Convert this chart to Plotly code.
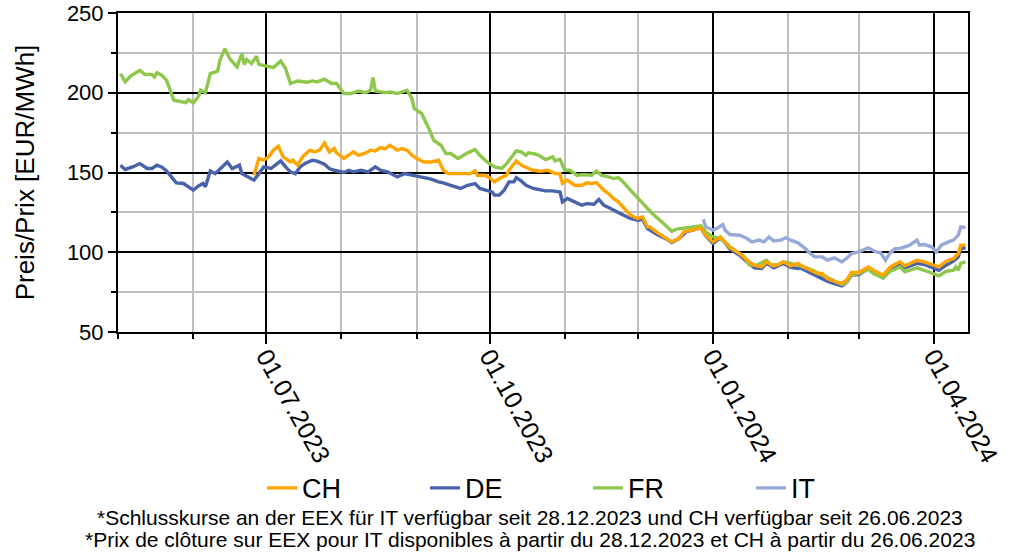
import pandas as pd
import plotly.graph_objects as go

START = "2023-05-01"  # day 0 of the day offsets below

# ---- data: day offsets since 2023-05-01 and prices [EUR/MWh] ----
CH_days = [56, 58, 60, 62, 64, 66, 68, 70, 71, 72,
           74, 76, 79, 81, 83, 85, 87, 89, 90, 93,
           95, 97, 99, 102, 104, 106, 108, 110, 112, 115,
           117, 119, 121, 123, 126, 129, 132, 134, 136, 140,
           141, 145, 147, 148, 151, 153, 155, 157, 160, 161,
           164, 166, 169, 171, 174, 177, 180, 182, 183, 185,
           188, 191, 193, 195, 197, 200, 202, 204, 206, 208,
           211, 214, 216, 218, 219, 222, 226, 228, 231, 233,
           236, 240, 242, 245, 248, 250, 252, 256, 259, 262,
           265, 267, 270, 272, 274, 277, 280, 281, 285, 288,
           290, 292, 295, 298, 300, 302, 305, 309, 311, 315,
           318, 322, 324, 329, 332, 336, 338, 341, 344, 346,
           347, 349]
CH_vals = [148.3, 158.8, 157.7, 159.8, 164, 166.5, 159.8, 157.7, 156.6, 157.7,
           154.6, 159.8, 164, 162.9, 164, 168.5, 162.9, 165, 162.3, 158.8,
           160.8, 162.9, 160.8, 162.3, 164, 163.5, 165.6, 165, 167.1, 164,
           165, 164, 160.8, 158.8, 156.6, 156.6, 157.7, 151.4, 149.3, 149.3,
           148.9, 149.3, 151, 148.3, 148.3, 146.8, 144.1, 146.2, 148.3, 151.4,
           157.3, 154.6, 152.5, 151.4, 150.8, 151.4, 149.3, 149.3, 143.1, 145.2,
           142, 142, 143.5, 143.1, 143.7, 138.9, 136.8, 133.7, 131.6, 128.1,
           123.3, 121.2, 122.2, 115.9, 115.9, 112.4, 108.6, 106.5, 108.6, 112.8,
           113.8, 115.3, 110.7, 106.5, 109.6, 106.5, 102.8, 99.2, 95, 91.9,
           90.8, 94, 91.5, 92.3, 94, 91.5, 93, 91.9, 88.7, 86.7,
           86.7, 83.5, 81.9, 80.4, 82.5, 87.3, 87.3, 90.8, 88.7, 85.6,
           90.8, 94, 91.5, 95, 94, 91.9, 90.8, 94.4, 96.1, 99.2,
           104.4, 104.4]

DE_days = [1, 3, 6, 9, 12, 14, 16, 18, 20, 24,
           27, 29, 31, 33, 35, 36, 38, 40, 42, 45,
           47, 50, 51, 54, 56, 58, 60, 63, 65, 67,
           69, 71, 73, 75, 77, 80, 82, 85, 87, 89,
           93, 95, 97, 100, 103, 106, 108, 111, 115, 118,
           121, 123, 126, 129, 132, 134, 137, 140, 141, 144,
           147, 149, 152, 154, 155, 157, 159, 161, 163, 164,
           166, 168, 171, 173, 176, 179, 182, 183, 185, 188,
           191, 193, 196, 198, 200, 202, 204, 206, 208, 211,
           214, 216, 218, 222, 226, 228, 231, 234, 237, 240,
           242, 245, 248, 250, 252, 256, 259, 262, 265, 267,
           270, 272, 274, 277, 280, 281, 285, 288, 292, 295,
           298, 300, 302, 305, 309, 311, 315, 318, 322, 324,
           329, 332, 336, 338, 341, 344, 346, 347, 349]
DE_vals = [154.6, 151.9, 153.5, 155.6, 152.5, 152.5, 154.6, 153.5, 151, 143.5,
           143.1, 141, 138.9, 141.4, 143.1, 141, 151, 149.3, 152.5, 156.6,
           152.5, 154.6, 149.3, 146.8, 145.2, 149.3, 153.5, 152.5, 155.2, 157.3,
           153.5, 150.4, 149.3, 153.5, 155.6, 157.7, 157.1, 155.2, 152.5, 151.4,
           150, 151.4, 150.4, 151.4, 150.4, 153.5, 151.4, 150.4, 147.2, 149.3,
           148.3, 147.7, 146.8, 145.8, 144.1, 143.5, 142, 140.6, 140, 142,
           143.1, 140, 138.5, 137.8, 135.8, 135.8, 138.9, 144.1, 144.1, 146.8,
           144.7, 142, 140, 139.3, 138.5, 138.5, 137.8, 131.6, 133.7, 131.6,
           129.5, 130.5, 130.1, 133.1, 129.5, 128.1, 126.4, 125.3, 123.3, 121.2,
           120.1, 120.7, 114.9, 111.1, 108.2, 106.1, 108.6, 112.8, 113.8, 115.3,
           110.3, 105.5, 109, 105.9, 101.9, 98.1, 94, 90.2, 89.8, 93,
           90.2, 91.5, 93, 90.5, 89.8, 90.2, 87.3, 85.2, 81.9, 80.4,
           78.9, 81, 85.6, 86, 89.8, 87.7, 84, 89.4, 92.3, 90.2,
           93, 92.3, 89.8, 88.7, 91.9, 94.4, 97.1, 102.3, 102.8]

FR_days = [1, 3, 5, 9, 11, 14, 15, 16, 18, 20,
           23, 25, 28, 29, 31, 33, 34, 36, 38, 41,
           42, 44, 46, 49, 51, 52, 53, 55, 57, 58,
           61, 64, 67, 69, 71, 74, 78, 80, 82, 85,
           88, 90, 93, 96, 99, 102, 104, 105, 106, 110,
           112, 115, 119, 121, 122, 125, 128, 130, 133, 135,
           137, 140, 144, 147, 149, 152, 155, 158, 160, 164,
           166, 168, 169, 172, 174, 176, 179, 180, 182, 184,
           186, 189, 192, 195, 197, 199, 202, 204, 206, 208,
           211, 213, 216, 220, 224, 228, 230, 234, 237, 240,
           242, 245, 248, 250, 252, 255, 258, 260, 263, 267,
           269, 272, 274, 277, 281, 285, 288, 292, 295, 298,
           300, 302, 305, 309, 311, 315, 318, 322, 324, 329,
           332, 336, 338, 341, 344, 345, 346, 347, 349]
FR_vals = [212, 206.8, 210.3, 214.1, 211.6, 211.4, 209.9, 212.6, 211, 207.8,
           195.3, 194.7, 193.8, 195.7, 193.6, 197.4, 201.6, 200.1, 212, 213.5,
           220.4, 227.7, 221.4, 216.2, 224.5, 217.8, 220.8, 218.3, 222.9, 217.8,
           216.6, 215.8, 219.9, 215.2, 205.8, 207.4, 206.6, 207.4, 206.8, 208.5,
           205.8, 205.8, 199.5, 199.5, 201.1, 200.1, 201.6, 209.5, 201.1, 200.1,
           200.5, 199.5, 201.6, 196.4, 190.1, 187, 177.6, 170.2, 167.1, 161.9,
           161.9, 158.8, 162.3, 164.4, 160.8, 156.6, 153.5, 152.5, 155.6, 163.5,
           162.9, 160.8, 162.3, 161.5, 160.2, 158.1, 159.8, 157.3, 158.3, 151.4,
           151.4, 148.3, 148.7, 148.3, 151, 148.3, 147.2, 146.2, 146.8, 144.1,
           138.9, 135.8, 130.5, 124.3, 119, 113.2, 114.5, 115.5, 115.9, 116.5,
           112.8, 109.6, 108.6, 106.5, 103.4, 100.2, 97.1, 91.9, 91.9, 95,
           91.9, 92.3, 94, 93, 91.5, 89.4, 87.3, 84, 81.9, 79.8,
           81, 85.6, 86.7, 89.4, 86.7, 84, 88.1, 90.8, 87.7, 90.2,
           88.7, 86.7, 85.2, 88.1, 88.7, 90.8, 88.7, 93, 94]

IT_days = [241, 242, 245, 247, 249, 250, 252, 256, 259, 261,
           264, 266, 268, 270, 273, 275, 277, 280, 283, 285,
           287, 290, 292, 295, 298, 300, 302, 305, 309, 312,
           314, 316, 318, 320, 322, 324, 326, 329, 330, 332,
           335, 337, 339, 342, 344, 346, 347, 349]
IT_vals = [120.7, 115.9, 113.8, 115.3, 117.4, 113.8, 111.1, 110.7, 108.6, 106.5,
           107.6, 106.5, 109.6, 107.1, 107.6, 109.2, 107.6, 105.9, 102.3, 99.2,
           97.1, 97.1, 95, 96.5, 94, 96.1, 99.2, 100.2, 102.8, 100.2,
           99.8, 95, 99.8, 102.3, 102.3, 103.4, 104.4, 107.6, 104.4, 104.8,
           103.4, 100.2, 104.4, 106.5, 107.6, 110.7, 115.9, 115.5]

SERIES = ["CH", "DE", "FR", "IT"]
COLORS = {"CH": "#FFA500", "DE": "#4A62AA", "FR": "#8DC74B", "IT": "#97A9D9"}
DATA = {"CH": (CH_days, CH_vals), "DE": (DE_days, DE_vals),
        "FR": (FR_days, FR_vals), "IT": (IT_days, IT_vals)}
DRAW_ORDER = ["DE", "FR", "IT", "CH"]

FOOT1 = "*Schlusskurse an der EEX für IT verfügbar seit 28.12.2023 und CH verfügbar seit 26.06.2023"
FOOT2 = "*Prix de clôture sur EEX pour IT disponibles à partir du 28.12.2023 et CH à partir du 26.06.2023"


def to_dates(days):
    return pd.Timestamp(START) + pd.to_timedelta(days, unit="D")


fig = go.Figure()
for name in DRAW_ORDER:
    d, v = DATA[name]
    fig.add_trace(go.Scatter(
        x=to_dates(d), y=v, mode="lines", name=name,
        line=dict(color=COLORS[name], width=3.4),
        legendrank=SERIES.index(name) + 1,
    ))

FONT = "Liberation Sans, Arial, sans-serif"

fig.update_layout(
    width=1012, height=555,
    margin=dict(l=118, r=44, t=13, b=223, autoexpand=False),
    plot_bgcolor="white", paper_bgcolor="white",
    font=dict(family=FONT, size=20, color="black"),
    legend=dict(orientation="h", x=0.553, xanchor="center", y=-0.49, yanchor="middle",
                entrywidth=118, font=dict(size=27, family=FONT),
                bgcolor="rgba(0,0,0,0)", traceorder="normal"),
    xaxis=dict(
        type="date", range=["2023-05-01", "2024-04-15"], automargin=False,
        dtick="M3", tick0="2023-01-01", tickformat="%d.%m.%Y",
        tickangle=61, tickfont=dict(size=25), ticklabelstandoff=-12,
        ticks="outside", ticklen=10, tickwidth=2, tickcolor="black",
        showgrid=True, gridcolor="black", gridwidth=2,
        showline=True, linecolor="black", linewidth=2, mirror=True,
        zeroline=False,
        minor=dict(dtick="M1", tick0="2023-01-01", showgrid=True,
                   gridcolor="#BFBFBF", gridwidth=2,
                   ticks="outside", ticklen=5, tickwidth=1.5, tickcolor="black"),
    ),
    yaxis=dict(
        range=[50, 250], dtick=50, tick0=0, tickfont=dict(size=22), automargin=False,
        ticks="outside", ticklen=8, tickwidth=2, tickcolor="black",
        showgrid=True, gridcolor="black", gridwidth=2,
        showline=True, linecolor="black", linewidth=2, mirror=True,
        zeroline=False,
        minor=dict(dtick=25, showgrid=True, gridcolor="#BFBFBF", gridwidth=2,
                   ticks="outside", ticklen=5, tickwidth=1.5, tickcolor="black"),
        title=dict(text="Preis/Prix [EUR/MWh]", font=dict(size=26), standoff=25),
    ),
    annotations=[
        dict(text=FOOT1, xref="paper", yref="paper", x=0.485, y=-0.58,
             xanchor="center", yanchor="middle", showarrow=False,
             font=dict(size=21, family=FONT)),
        dict(text=FOOT2, xref="paper", yref="paper", x=0.485, y=-0.652,
             xanchor="center", yanchor="middle", showarrow=False,
             font=dict(size=21, family=FONT)),
    ],
)

fig.write_html("out.html", config={"displayModeBar": False},
               post_script="document.body.style.margin='0';document.body.style.padding='0';")
